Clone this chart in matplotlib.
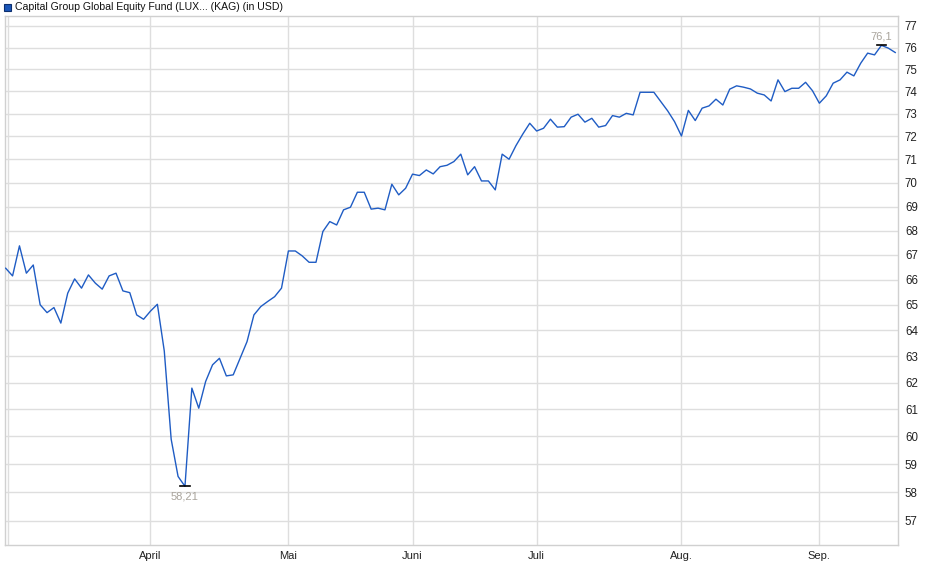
import matplotlib
matplotlib.use("Agg")
import matplotlib.pyplot as plt
from matplotlib.ticker import FixedLocator, NullLocator

plt.rcParams['font.family'] = ['Liberation Sans', 'DejaVu Sans']

title = "Capital Group Global Equity Fund (LUX... (KAG) (in USD)"

# fund price, one value per trading day (March - mid September)
prices = [
    66.46, 66.15, 67.37, 66.26, 66.59, 65.00, 64.69, 64.89, 64.28, 65.46,
    66.03, 65.66, 66.19, 65.86, 65.62, 66.15, 66.26, 65.55, 65.48, 64.60,
    64.43, 64.75, 65.02, 63.20, 59.90, 58.56, 58.21, 61.79, 61.04, 62.04,
    62.67, 62.92, 62.25, 62.29, 62.92, 63.56, 64.60, 64.93, 65.13, 65.32,
    65.66, 67.16, 67.16, 66.96, 66.70, 66.70, 67.96, 68.37, 68.23, 68.86,
    68.97, 69.60, 69.60, 68.89, 68.93, 68.86, 69.94, 69.49, 69.77, 70.37,
    70.31, 70.55, 70.38, 70.69, 70.75, 70.91, 71.23, 70.34, 70.69, 70.08,
    70.08, 69.70, 71.23, 71.01, 71.60, 72.11, 72.58, 72.24, 72.36, 72.76,
    72.41, 72.43, 72.85, 72.98, 72.63, 72.80, 72.41, 72.48, 72.92, 72.85,
    73.02, 72.95, 73.96, 73.96, 73.96, 73.54, 73.13, 72.65, 72.02, 73.15,
    72.70, 73.25, 73.35, 73.65, 73.39, 74.10, 74.25, 74.19, 74.11, 73.92,
    73.84, 73.57, 74.52, 73.99, 74.14, 74.14, 74.41, 74.03, 73.47, 73.80,
    74.37, 74.52, 74.87, 74.70, 75.28, 75.74, 75.66, 76.10, 75.97, 75.77,
]

month_labels = ["April", "Mai", "Juni", "Juli", "Aug.", "Sep."]
month_index = [21, 41, 59, 77, 98, 118]   # first trading day of each month
y_ticks = list(range(57, 78))

days = list(range(len(prices)))

fig = plt.figure(figsize=(9.4, 5.79), dpi=100)
ax = fig.add_axes([0.0053, 0.0587, 0.9500, 0.9137])

grid_col = '#dedede'
ax.plot(days, prices, color='#1f5cc4', lw=1.0, zorder=3)

ax.set_yscale('log')
ax.set_ylim(56.17, 77.47)
ax.set_xlim(-0.1, 129.4)

ax.yaxis.set_major_locator(FixedLocator(y_ticks))
ax.yaxis.set_minor_locator(NullLocator())
ax.set_yticklabels([str(v) for v in y_ticks])
ax.yaxis.tick_right()
ax.tick_params(axis='y', length=0, pad=5, labelsize=8.3, labelcolor='#222222')

ax.set_xticks(month_index)
ax.set_xticklabels(month_labels)
ax.tick_params(axis='x', length=0, pad=4, labelsize=8, labelcolor='#222222')

ax.grid(True, color=grid_col, lw=1.0, zorder=0)
ax.axvline(0.3, color=grid_col, lw=1.0, zorder=0)
for s in ax.spines.values():
    s.set_color('#d0d0d0')
    s.set_linewidth(1.0)

# min / max markers
i_min = prices.index(min(prices))
i_max = prices.index(max(prices))
for i, va, off in [(i_min, 'top', -4), (i_max, 'bottom', 3)]:
    ax.plot([i - 0.7, i + 0.7], [prices[i], prices[i]], color='black', lw=1.2, zorder=4)
    ax.annotate(f"{prices[i]:g}".replace('.', ','), (i, prices[i]),
                xytext=(0, off), textcoords='offset points',
                ha='center', va=va, fontsize=8, color='#a9a49c')

# legend box at top-left
fig.patches.append(plt.Rectangle((4 / 940, 1 - 11 / 579), 7 / 940, 7 / 579,
                                 transform=fig.transFigure, facecolor='#1a56b8',
                                 edgecolor='#0d2f6e', lw=0.8))
fig.text(15 / 940, 1 - 7.5 / 579, title, fontsize=7.6, va='center', ha='left',
         color='#111111')

fig.savefig('out.png', dpi=100)
